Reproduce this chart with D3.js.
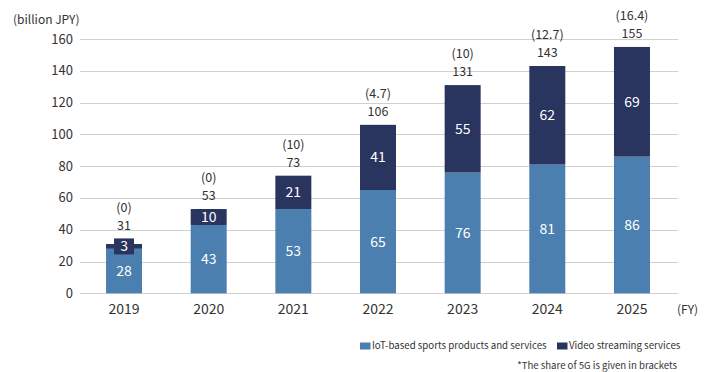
<!DOCTYPE html>
<meta charset="utf-8">
<script src="https://d3js.org/d3.v7.min.js"></script>
<style>
  body { margin: 0; background: #fff; }
  svg text { font-family: "Noto Sans CJK JP", "Noto Sans", sans-serif; }
</style>
<body>
<div id="chart"></div>
<script>
  // data
  var years = ["2019", "2020", "2021", "2022", "2023", "2024", "2025"];
  var iot = [28, 43, 53, 65, 76, 81, 86];
  var video = [3, 10, 21, 41, 55, 62, 69];
  var totals = [31, 53, 73, 106, 131, 143, 155];
  var share5g = ["(0)", "(0)", "(10)", "(4.7)", "(10)", "(12.7)", "(16.4)"];
  var yTicks = [0, 20, 40, 60, 80, 100, 120, 140, 160];
  var seriesNames = ["IoT-based sports products and services", "Video streaming services"];
  var colors = ["#4a7fb0", "#29345f"];

  var W = 706, H = 372;
  var svg = d3.select("#chart").append("svg")
    .attr("width", W).attr("height", H);

  var x = d3.scaleBand()
    .domain(years)
    .range([81.7, 674.3])
    .paddingInner(0.575)
    .paddingOuter(0.2875);

  var y = d3.scaleLinear()
    .domain([0, 160])
    .range([293.3, 39]);

  // gridlines
  svg.append("g")
    .selectAll("line")
    .data(yTicks)
    .enter()
    .append("line")
    .attr("x1", 80).attr("x2", 678)
    .attr("y1", function (d) { return Math.round(y(d)) + 0.5; })
    .attr("y2", function (d) { return Math.round(y(d)) + 0.5; })
    .attr("stroke", "#d0d0d0")
    .attr("stroke-width", 1);

  // y tick labels
  svg.append("g")
    .selectAll("text")
    .data(yTicks)
    .enter()
    .append("text")
    .attr("x", 73)
    .attr("y", function (d) { return y(d); })
    .attr("dy", "0.35em")
    .attr("text-anchor", "end")
    .attr("fill", "#333")
    .style("font-size", "13px")
    .text(function (d) { return d; });

  svg.append("text")
    .attr("x", 13).attr("y", 20)
    .attr("dy", "0.35em")
    .attr("fill", "#333")
    .style("font-size", "12px")
    .text("(billion JPY)");

  // year labels
  svg.append("g")
    .selectAll("text")
    .data(years)
    .enter()
    .append("text")
    .attr("x", function (d) { return x(d) + x.bandwidth() / 2; })
    .attr("y", 309)
    .attr("dy", "0.35em")
    .attr("text-anchor", "middle")
    .attr("fill", "#333")
    .style("font-size", "14px")
    .text(function (d) { return d; });

  svg.append("text")
    .attr("x", 677).attr("y", 310)
    .attr("dy", "0.35em")
    .attr("fill", "#333")
    .style("font-size", "12px")
    .text("(FY)");

  var rows = years.map(function (yr, i) {
    return { year: yr, iot: iot[i], video: video[i], total: totals[i], share: share5g[i] };
  });

  // bars
  var bars = svg.append("g");
  bars.selectAll(".iot")
    .data(rows)
    .enter()
    .append("rect")
    .attr("x", function (d) { return x(d.year); })
    .attr("width", x.bandwidth())
    .attr("y", function (d) { return y(d.iot); })
    .attr("height", function (d) { return y(0) - y(d.iot); })
    .attr("fill", colors[0]);
  bars.selectAll(".video")
    .data(rows)
    .enter()
    .append("rect")
    .attr("x", function (d) { return x(d.year); })
    .attr("width", x.bandwidth())
    .attr("y", function (d) { return y(d.iot + d.video); })
    .attr("height", function (d) { return y(d.iot) - y(d.iot + d.video); })
    .attr("fill", colors[1]);

  // segment labels
  var labels = svg.append("g");
  rows.forEach(function (d) {
    var cx = x(d.year) + x.bandwidth() / 2;
    labels.append("text")
      .attr("x", cx)
      .attr("y", (y(0) + y(d.iot)) / 2)
      .attr("dy", "0.35em")
      .attr("text-anchor", "middle")
      .attr("fill", "#fff")
      .style("font-size", "14px")
      .text(d.iot);

    var vy = (y(d.iot) + y(d.iot + d.video)) / 2;
    var segH = y(d.iot) - y(d.iot + d.video);
    var top = y(d.iot + d.video);
    if (segH < 18) {
      // small segment: label gets its own dark box
      var bw = String(d.video).length * 8 + 12;
      labels.append("rect")
        .attr("x", cx - bw / 2)
        .attr("y", vy - 8)
        .attr("width", bw)
        .attr("height", 16)
        .attr("fill", colors[1]);
      top = Math.min(top, vy - 8);
    }
    labels.append("text")
      .attr("x", cx)
      .attr("y", vy)
      .attr("dy", "0.35em")
      .attr("text-anchor", "middle")
      .attr("fill", "#fff")
      .style("font-size", "14px")
      .text(d.video);

    labels.append("text")
      .attr("x", cx)
      .attr("y", top - 13)
      .attr("dy", "0.35em")
      .attr("text-anchor", "middle")
      .attr("fill", "#333")
      .style("font-size", "12.5px")
      .text(d.total);
    labels.append("text")
      .attr("x", cx)
      .attr("y", top - 31)
      .attr("dy", "0.35em")
      .attr("text-anchor", "middle")
      .attr("fill", "#333")
      .style("font-size", "12.5px")
      .text(d.share);
  });

  // legend
  var legend = svg.append("g");
  var legendX = [360, 557];
  seriesNames.forEach(function (name, i) {
    legend.append("rect")
      .attr("x", legendX[i]).attr("y", 342.5)
      .attr("width", 10.5).attr("height", 7)
      .attr("fill", colors[i]);
    legend.append("text")
      .attr("x", legendX[i] + 12).attr("y", 346)
      .attr("dy", "0.35em")
      .attr("fill", "#333")
      .style("font-size", "9.7px")
      .text(name);
  });

  svg.append("text")
    .attr("x", 677).attr("y", 366)
    .attr("dy", "0.35em")
    .attr("text-anchor", "end")
    .attr("fill", "#333")
    .style("font-size", "9.6px")
    .text("*The share of 5G is given in brackets");
</script>
</body>
